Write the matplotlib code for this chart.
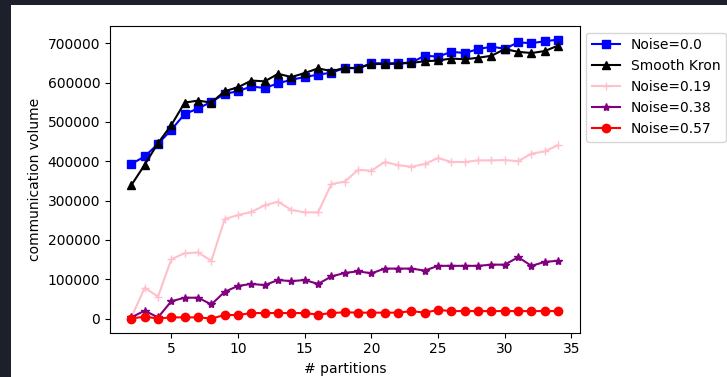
import matplotlib
matplotlib.use("Agg")
import matplotlib.pyplot as plt
from matplotlib.patches import Rectangle

partitions = list(range(2, 35))

noise_00 = [393000, 412000, 444000, 480000, 520000, 534000, 551000, 571000, 578000,
            590000, 586000, 598000, 607000, 614000, 620000, 625000, 637000, 636000,
            649000, 649000, 649000, 651000, 668000, 666000, 678000, 675000, 685000,
            691000, 686000, 702000, 700000, 705000, 709000]

smooth_kron = [339000, 391000, 446000, 492000, 549000, 554000, 549000, 578000, 588000,
               605000, 603000, 622000, 614000, 624000, 636000, 629000, 637000, 637000,
               647000, 647000, 648000, 650000, 654000, 656000, 661000, 659000, 663000,
               668000, 685000, 678000, 675000, 680000, 694000]

noise_019 = [3000, 78000, 56000, 151000, 166000, 168000, 147000, 253000, 263000,
             271000, 288000, 297000, 276000, 270000, 270000, 342000, 348000, 378000,
             376000, 398000, 390000, 386000, 393000, 408000, 398000, 398000, 402000,
             402000, 403000, 400000, 419000, 425000, 441000]

noise_038 = [3000, 20000, 3000, 44000, 53000, 53000, 36000, 68000, 83000,
             88000, 85000, 98000, 95000, 98000, 88000, 107000, 116000, 120000,
             115000, 127000, 127000, 127000, 122000, 134000, 134000, 134000, 134000,
             137000, 137000, 156000, 134000, 144000, 147000]

noise_057 = [0, 5000, 0, 3000, 3000, 3000, 0, 9000, 9000,
             14000, 14000, 14000, 14000, 14000, 10000, 14000, 16000, 15000,
             15000, 15000, 15000, 19000, 15000, 22000, 19000, 19000, 19000,
             19000, 19000, 19000, 19000, 19000, 19000]

W, H = 727, 377
fig = plt.figure(figsize=(W / 100, H / 100), dpi=100, facecolor="white")
# dark frame of the notebook output cell (left and top strips)
dark = "#1c202b"
fig.patches.append(Rectangle((0, 0), 11 / W, 1, transform=fig.transFigure,
                             facecolor=dark, edgecolor="none"))
fig.patches.append(Rectangle((0, 1 - 5 / H), 1, 5 / H, transform=fig.transFigure,
                             facecolor=dark, edgecolor="none"))

ax = fig.add_axes([110 / W, 1 - 332.5 / H, 469.5 / W, 306.8 / H])
ax.plot(partitions, noise_00, color="blue", marker="s", label="Noise=0.0")
ax.plot(partitions, smooth_kron, color="black", marker="^", label="Smooth Kron")
ax.plot(partitions, noise_019, color="pink", marker="+", label="Noise=0.19")
ax.plot(partitions, noise_038, color="purple", marker="*", label="Noise=0.38")
ax.plot(partitions, noise_057, color="red", marker="o", label="Noise=0.57")

ax.set_xlabel("# partitions")
ax.set_ylabel("communication volume")
ax.set_xticks([5, 10, 15, 20, 25, 30, 35])
ax.legend(loc="upper left", bbox_to_anchor=(1, 1))

fig.savefig("out.png", dpi=100)
